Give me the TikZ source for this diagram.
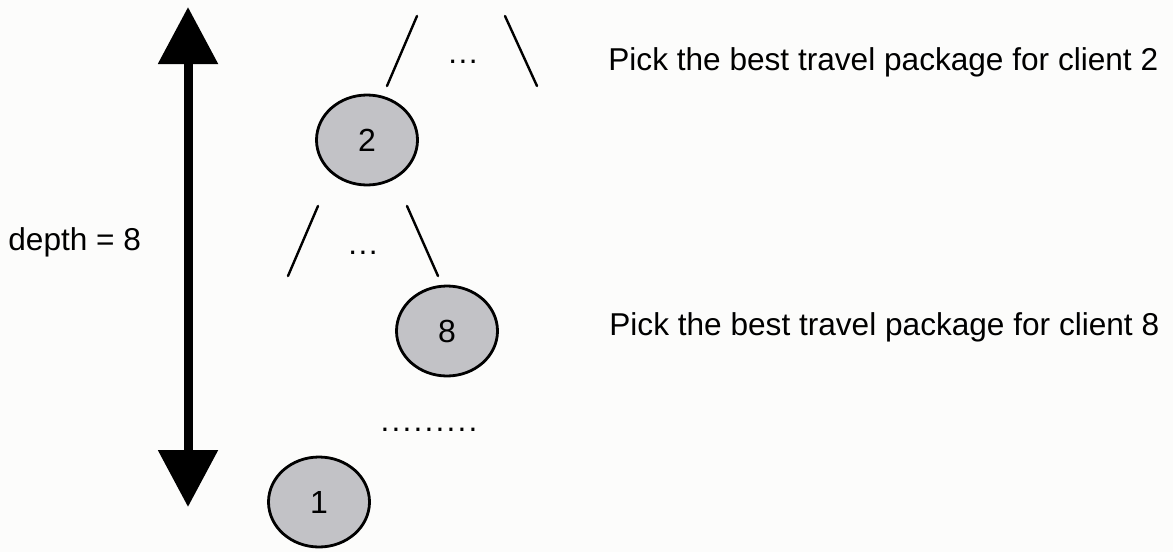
\documentclass[tikz,border=0pt]{standalone}
\usepackage{fontspec}
\setmainfont{Liberation Sans}
\usetikzlibrary{arrows.meta,shapes.geometric}
\definecolor{clientfill}{RGB}{194,194,198}
\definecolor{paper}{RGB}{252,252,251}
\begin{document}
\begin{tikzpicture}[x=0.5pt,y=-0.5pt,
  client/.style={ellipse,draw=black,line width=1.4pt,fill=clientfill,
    minimum width=50.5pt,minimum height=45pt,inner sep=0pt,
    font=\fontsize{16}{19}\selectfont},
  label/.style={font=\fontsize{15.8}{19}\selectfont,inner sep=0pt},
  branch/.style={line width=1.2pt,line cap=round},
  depth/.style={line width=4.5pt,
    {Triangle[width=29pt,length=28.5pt]}-{Triangle[width=29pt,length=28.5pt]}}]
  \useasboundingbox[fill=paper] (0,0) rectangle (1173,552);

  % depth arrow
  \coordinate (dtop) at (188,7);
  \coordinate (dbot) at (188,507);
  \draw[depth] (dtop) -- (dbot);
  \node[label,anchor=base west] (dlab) at (8,250) {depth = 8};

  % top level branches
  \coordinate (a1) at (417,16);
  \coordinate (a2) at (387,86);
  \coordinate (b1) at (505,16);
  \coordinate (b2) at (537,86);
  \draw[branch] (a1) -- (a2);
  \draw[branch] (b1) -- (b2);
  \node[label] (dots1) at (463,62) {\addfontfeature{LetterSpace=5}...};

  % client nodes
  \node[client] (n2) at (367,140) {2};
  \node[client] (n8) at (447,331) {8};
  \node[client] (n1) at (319,502) {1};

  % branches below client 2
  \coordinate (c1) at (318,206);
  \coordinate (c2) at (288,276);
  \coordinate (e1) at (407,206);
  \coordinate (e2) at (438,276);
  \draw[branch] (c1) -- (c2);
  \draw[branch] (e1) -- (e2);
  \node[label] (dots2) at (363,253) {\addfontfeature{LetterSpace=5}...};

  \node[label,anchor=base] (dots3) at (429,431)
    {\addfontfeature{LetterSpace=7}.........};

  % descriptions
  \node[label,anchor=base west] (t2) at (608,70)
    {Pick the best travel package for client 2};
  \node[label,anchor=base west] (t8) at (609,335)
    {Pick the best travel package for client 8};
\end{tikzpicture}
\end{document}
